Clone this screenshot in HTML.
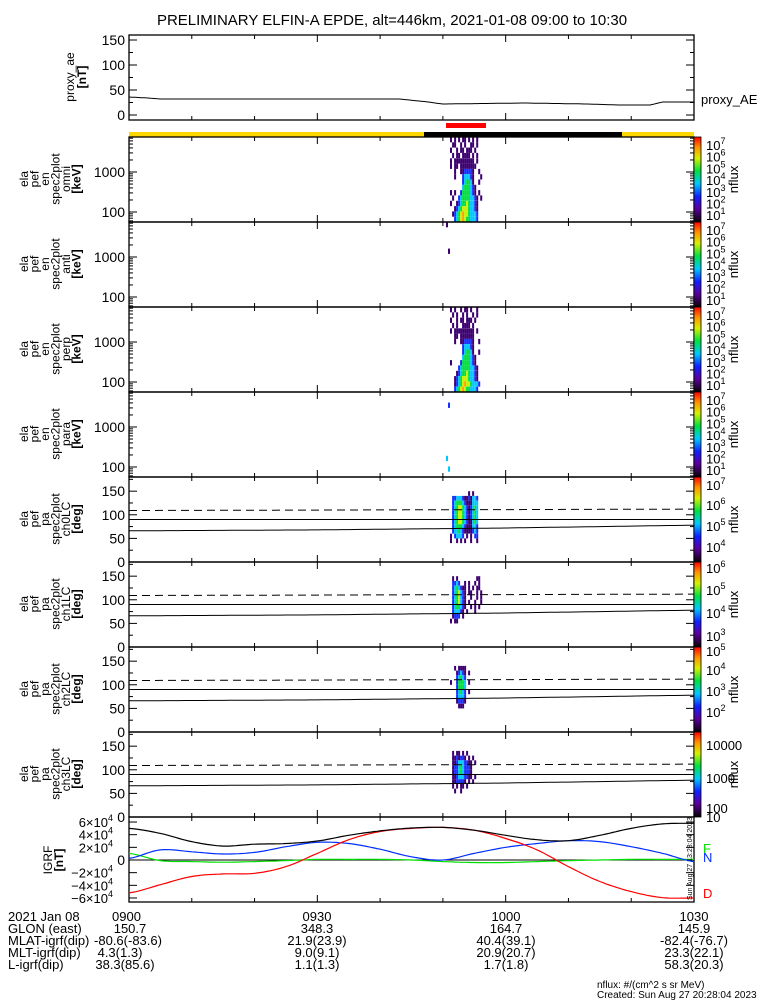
<!DOCTYPE html>
<html><head><meta charset="utf-8"><style>
html,body{margin:0;padding:0;background:#fff;}
svg{display:block;font-family:"Liberation Sans",sans-serif;}
</style></head><body>
<svg id="chart" width="775" height="1000" viewBox="0 0 775 1000" xmlns="http://www.w3.org/2000/svg">
<rect width="775" height="1000" fill="#fff"/>
<defs>
<linearGradient id="cbar" x1="0" y1="1" x2="0" y2="0">
<stop offset="0" stop-color="#000"/><stop offset="0.06" stop-color="#2a0040"/><stop offset="0.16" stop-color="#5a00a0"/>
<stop offset="0.3" stop-color="#1020ff"/><stop offset="0.45" stop-color="#00c8ff"/><stop offset="0.6" stop-color="#00e040"/>
<stop offset="0.75" stop-color="#d8f000"/><stop offset="0.88" stop-color="#ff9000"/><stop offset="1" stop-color="#ff0000"/>
</linearGradient>
</defs>
<text x="392" y="25" font-size="15" text-anchor="middle">PRELIMINARY ELFIN-A EPDE, alt=446km, 2021-01-08 09:00 to 10:30</text>
<g id="g"></g>
<g font-size="13">
<text x="8" y="921">2021 Jan 08</text><text x="112" y="921">0900</text><text x="317" y="921" text-anchor="middle">0930</text><text x="506" y="921" text-anchor="middle">1000</text><text x="694" y="921" text-anchor="middle">1030</text>
<text x="8" y="933">GLON (east)</text><text x="130" y="933" text-anchor="middle">150.7</text><text x="317" y="933" text-anchor="middle">348.3</text><text x="506" y="933" text-anchor="middle">164.7</text><text x="694" y="933" text-anchor="middle">145.9</text>
<text x="8" y="945">MLAT-igrf(dip)</text><text x="128" y="945" text-anchor="middle">-80.6(-83.6)</text><text x="317" y="945" text-anchor="middle">21.9(23.9)</text><text x="506" y="945" text-anchor="middle">40.4(39.1)</text><text x="694" y="945" text-anchor="middle">-82.4(-76.7)</text>
<text x="8" y="957">MLT-igrf(dip)</text><text x="120" y="957" text-anchor="middle">4.3(1.3)</text><text x="317" y="957" text-anchor="middle">9.0(9.1)</text><text x="506" y="957" text-anchor="middle">20.9(20.7)</text><text x="694" y="957" text-anchor="middle">23.3(22.1)</text>
<text x="8" y="969">L-igrf(dip)</text><text x="125" y="969" text-anchor="middle">38.3(85.6)</text><text x="317" y="969" text-anchor="middle">1.1(1.3)</text><text x="506" y="969" text-anchor="middle">1.7(1.8)</text><text x="694" y="969" text-anchor="middle">58.3(20.3)</text>
<text x="597" y="988" font-size="10">nflux: #/(cm^2 s sr MeV)</text>
<text x="597" y="998" font-size="10">Created: Sun Aug 27 20:28:04 2023</text>
</g>
</svg>
<script>
const NS="http://www.w3.org/2000/svg";
const X0=129,X1=694,TMAX=90;
// proxy AE data
const proxyT=[0,3,5,43,47,50,63,73,78,83,85,90];
const proxyV=[36,34,32,32,27,22,24,22,20,20,26,26];
// IGRF data (units 1e4 nT), every 5 min
const igrfT=[0,5,10,15,20,25,30,35,40,45,50,55,60,65,70,75,80,85,90];
const igrfBlack=[5.0,4.2,2.9,2.2,2.5,2.6,3.0,3.9,4.6,5.05,5.15,4.7,3.9,3.2,3.05,3.9,5.0,5.7,5.8];
const igrfRed=[-5.2,-3.9,-2.6,-2.2,-2.1,-1.05,1.05,3.2,4.5,5.0,5.15,4.7,3.4,1.6,-1.05,-3.4,-5.0,-5.95,-6.0];
const igrfBlue=[0.25,1.6,1.3,0.95,1.2,2.1,2.8,2.6,1.7,0.5,0,1.05,2.0,2.6,3.05,2.9,2.1,1.05,-0.25];
const igrfGreen=[1.05,-0.1,-0.25,-0.35,-0.25,-0.1,0.1,0.1,0.1,0,-0.25,-0.4,-0.4,-0.25,-0.1,0,0.1,0.1,0.1];
// loss cone lines (deg) vs time
const lcT=[0,30,60,90];
const lcLower=[66,68,72,78];
const lcDashed=[109,110,111,112];
// spectrogram cells: level 1..7, start time (min), 0.32-min columns
const specStart=50.5;
const specOmni=["..1.1.1.11.1.1.1....","...11..1.1..11.1....","..1..1.11.111.1.....","...1.11.1111.1.1....","..1.1111111111.1....","..1.11.11111111.....","....1..1122221..1...","....1...233321...1..","........234431..1...","........3444321.....","..1.1..24444321.1...","...1..2344443321.1..","..1..12344543321....","....123455543321....","...1234565543332....","....234565443332...."];
const specAnti=["1...................","....................","....................","....................","....................",".1..................","....................","....................","....................","....................","....................","....................","....................","....................","....................","...................."];
const specPerp=["..1.1..1.11.1..1....","...1.1..1.1..1.1....","..1..1.11.111.1.....","...1.1..1111.1......","..1.1111111111.1....","....11.1111111......","....1..1122221..1...","........233321......","........234431..1...","........3444321.....","..1....24444321.....","......2344443321....",".....12344543321....","....123455543321....","....1234565543332...","....234565443332...."];
const specPara=["....................","....................",".2..................","....................","....................","....................","....................","....................","....................","....................","....................","....................","3...................","....................",".3..................","...................."];
const pa0=["","","","...........1.1......","...2233321121332....","...2344432111333....","...2345543212343....","...2345543212343....","...2345543212343....","...2345543211343....","...2344432111332....","...2334321111232....","..1.23332.1.1.22....","..1..1.1.1..1..1....","","","",""];
const pa1=["","","","...1.1.........11...","...2232..1.1..1.1...","...2343211.1.1.11...","...2345321.11..1.1..","...2345321..1..1.1..","...2345321.1..1..1..","...2344321..1.1.1...","...233321.1...1.....","...1222.1...........","..1.11..............","","","","",""];
const pa2=["","","","","....1.1111..........",".....12321.1........",".....23432..........","..1..24443.1........",".....24443..........",".....23432.1........",".....23332..........",".....12221..........","......111...........","","","","",""];
const pa3=["","","","","...1.11.1.1.........","...1121221.1.1......","...1123332211.1.....","...1223432221.......","...1223432221.......","...1123332211.1.....","...1122221.1.1......","...1.1.11.1.........","....1..1............","","","","",""];
const lvlColors=["none","#3c0070","#1830ff","#00c8ff","#00e040","#c8f000","#ffa000","#ff1010"];

const g=document.getElementById('g');
function el(tag,attrs,parent){const e=document.createElementNS(NS,tag);for(const k in attrs)e.setAttribute(k,attrs[k]);(parent||g).appendChild(e);return e;}
function xT(t){return X0+(t/TMAX)*(X1-X0);}
function interp(T,V,t){for(let i=0;i<T.length-1;i++){if(t<=T[i+1]){const f=(t-T[i])/(T[i+1]-T[i]);return V[i]+f*(V[i+1]-V[i]);}}return V[V.length-1];}
function smooth(T,V,t){
  let i=0;while(i<T.length-2&&t>T[i+1])i++;
  const f=(t-T[i])/(T[i+1]-T[i]);
  const p0=V[Math.max(i-1,0)],p1=V[i],p2=V[i+1],p3=V[Math.min(i+2,V.length-1)];
  return 0.5*((2*p1)+(-p0+p2)*f+(2*p0-5*p1+4*p2-p3)*f*f+(-p0+3*p1-3*p2+p3)*f*f*f);
}

function timeTicks(top,bot,parent){
  for(let t=10;t<90;t+=10){const x=xT(t);const L=(t%30===0)?7:4;
    el('line',{x1:x,y1:top,x2:x,y2:top+L,stroke:'#000'},parent);
    el('line',{x1:x,y1:bot,x2:x,y2:bot-L,stroke:'#000'},parent);}
}
function frame(top,bot,parent){el('rect',{x:X0,y:top,width:X1-X0,height:bot-top,fill:'none',stroke:'#000','stroke-width':1.3},parent);timeTicks(top,bot,parent);}
function ylabel(lines,x0,cy,parent,sp){
  sp=sp||10.5;
  lines.forEach((s,i)=>{const x=x0+i*sp;
    const t=el('text',{x:x,y:cy,'font-size':12,'text-anchor':'middle',transform:`rotate(-90 ${x} ${cy})`},parent);
    t.textContent=s;if(s.startsWith('['))t.setAttribute('font-weight','bold');});
}
function yTick(y,label,parent,major){
  const L=major?8:4;
  el('line',{x1:X0,y1:y,x2:X0+L,y2:y,stroke:'#000'},parent);
  el('line',{x1:X1,y1:y,x2:X1-L,y2:y,stroke:'#000'},parent);
  if(label!==null){const t=el('text',{x:X0-4,y:y+5,'font-size':14,'text-anchor':'end'},parent);t.textContent=label;}
}
function colorbar(top,bot,labels,parent){
  el('rect',{x:694,y:top,width:7,height:bot-top,fill:'url(#cbar)',stroke:'#000','stroke-width':0.8},parent);
  labels.forEach(l=>{
    const t=el('text',{x:706,y:l.y+5,'font-size':13},parent);
    if(l.exp!==undefined){t.textContent='10';const s=el('tspan',{dy:-6,'font-size':9},t);s.textContent=l.exp;}
    else t.textContent=l.txt;
  });
  const cy=(top+bot)/2;const t=el('text',{x:738,y:cy,'font-size':13,'text-anchor':'middle',transform:`rotate(-90 738 ${cy})`},parent);t.textContent='nflux';
}

// ---- proxy AE panel
{
  const p=el('g',{});
  
  
  const top=35,bot=120,yv=v=>115-v*0.5;
  frame(top,bot,p);
  [0,50,100,150].forEach(v=>yTick(yv(v),String(v),p,true));
  [25,75,125].forEach(v=>yTick(yv(v),null,p,false));
  let d='';for(let t=0;t<=90;t+=0.5){d+=(t?'L':'M')+xT(t).toFixed(1)+','+yv(interp(proxyT,proxyV,t)).toFixed(1);}
  const line=el('path',{d:d,fill:'none',stroke:'#000','stroke-width':1},p);
  
  
  ylabel(['proxy_ae','[nT]'],74,77,p,12);
  const lt=el('text',{x:701,y:104,'font-size':13},p);lt.textContent='proxy_AE';
}
// ---- status bars
{
  const rb=el('rect',{x:446,y:123,width:40,height:5,fill:'#ff0000'});
  
  
  const y1=el('rect',{x:129,y:132,width:295,height:5,fill:'#ffd700'});
  
  
  const b1=el('rect',{x:424,y:132,width:198,height:5,fill:'#000'});
  
  
  const y2=el('rect',{x:622,y:132,width:72,height:5,fill:'#ffd700'});
  
  
}
function drawCells(rows,top,bot,p){
  const n=rows.length,h=(bot-top)/n,colW=xT(specStart+0.32)-xT(specStart);
  rows.forEach((r,i)=>{for(let j=0;j<r.length;j++){const c=r[j];if(c==='.')continue;
    const x=xT(specStart)+j*colW;
    const cell=el('rect',{x:x.toFixed(1),y:(top+i*h).toFixed(1),width:colW.toFixed(2),height:h.toFixed(2),fill:lvlColors[+c]},p);
    
    }});
}
const energyPanels=[[specOmni,'omni'],[specAnti,'anti'],[specPerp,'perp'],[specPara,'para']];
const eCbLabels=[7,6,5,4,3,2,1];
energyPanels.forEach((ep,k)=>{
  const top=137+k*85,bot=top+85;
  const p=el('g',{});
  
  
  drawCells(ep[0],top,bot,p);
  frame(top,bot,p);
  const yl=e=>top+35-(Math.log10(e)-3)*40;
  yTick(yl(100),'100',p,true);yTick(yl(1000),'1000',p,true);
  [60,70,80,90,200,300,400,500,600,700,800,900,2000,3000,4000,5000,6000,7000].forEach(e=>{const y=yl(e);if(y>top&&y<bot)yTick(y,null,p,false);});
  ylabel(['ela','pef','en','spec2plot',ep[1],'[keV]'],28,top+42,p);
  colorbar(top,bot,eCbLabels.map((e,i)=>({y:top+8+i*11.7,exp:e})),p);
});
const paPanels=[[pa0,'ch0LC',[{e:7,y:485},{e:6,y:505},{e:5,y:526},{e:4,y:547}]],[pa1,'ch1LC',[{e:6,y:568},{e:5,y:590},{e:4,y:613},{e:3,y:636}]],[pa2,'ch2LC',[{e:5,y:651},{e:4,y:670},{e:3,y:691},{e:2,y:712}]],[pa3,'ch3LC',[{t:'10000',y:745},{t:'1000',y:778},{t:'100',y:808}]]];
paPanels.forEach((pp,k)=>{
  const top=477+k*85,bot=top+85;
  const p=el('g',{});
  
  
  drawCells(pp[0],top,bot,p);
  frame(top,bot,p);
  const yd=d=>bot-d/180*85;
  [0,50,100,150].forEach(v=>yTick(yd(v),String(v),p,true));
  [25,75,125,175].forEach(v=>yTick(yd(v),null,p,false));
  el('line',{x1:X0,y1:yd(90),x2:X1,y2:yd(90),stroke:'#000','stroke-width':1},p);
  let d1='',d2='';for(let t=0;t<=90;t+=1){d1+=(t?'L':'M')+xT(t).toFixed(1)+','+yd(interp(lcT,lcLower,t)).toFixed(1);d2+=(t?'L':'M')+xT(t).toFixed(1)+','+yd(interp(lcT,lcDashed,t)).toFixed(1);}
  el('path',{d:d1,fill:'none',stroke:'#000','stroke-width':1},p);
  el('path',{d:d2,fill:'none',stroke:'#000','stroke-width':1,'stroke-dasharray':'8,5'},p);
  ylabel(['ela','pef','pa','spec2plot',pp[1],'[deg]'],28,top+42,p);
  colorbar(top,bot,pp[2].map(l=>l.t?{y:l.y,txt:l.t}:{y:l.y,exp:l.e}),p);
  if(k===3){const t=el('text',{x:706,y:822,'font-size':13},p);t.textContent='10';}
});
// ---- IGRF panel
{
  const top=817,bot=902,yv=v=>860-v*6.33;
  const p=el('g',{});
  
  
  frame(top,bot,p);
  el('line',{x1:X0,y1:yv(0),x2:X1,y2:yv(0),stroke:'#000'},p);
  [-6,-4,-2,2,4,6].forEach(v=>{const y=yv(v);yTick(y,null,p,true);
    const t=el('text',{x:X0-16,y:y+5,'font-size':13,'text-anchor':'end'},p);t.textContent=(v<0?'−':'')+Math.abs(v)+'×10';
    const s=el('tspan',{dy:-6,'font-size':9},t);s.textContent='4';});
  yTick(yv(0),'0',p,true);
  const series=[[igrfGreen,'#00e000','igrf-f-line'],[igrfBlue,'#0030ff','igrf-h-line'],[igrfRed,'#ff0000','igrf-d-line'],[igrfBlack,'#000','igrf-total-line']];
  series.forEach(s=>{let d='';for(let t=0;t<=90;t+=0.5){d+=(t?'L':'M')+xT(t).toFixed(1)+','+yv(smooth(igrfT,s[0],t)).toFixed(1);}
    const l=el('path',{d:d,fill:'none',stroke:s[1],'stroke-width':1.2},p);
    
    });
  ylabel(['IGRF','[nT]'],52,860,p,11);
  [['F','#00e000',853],['N','#0030ff',862],['D','#ff0000',898]].forEach(a=>{const t=el('text',{x:703,y:a[2],'font-size':13,fill:a[1]},p);t.textContent=a[0];});
  const st=el('text',{x:692,y:900,'font-size':7,transform:'rotate(-90 692 900)'},p);st.textContent='Sun Aug 27 13:28:04 2023';
}
</script>
</body></html>
